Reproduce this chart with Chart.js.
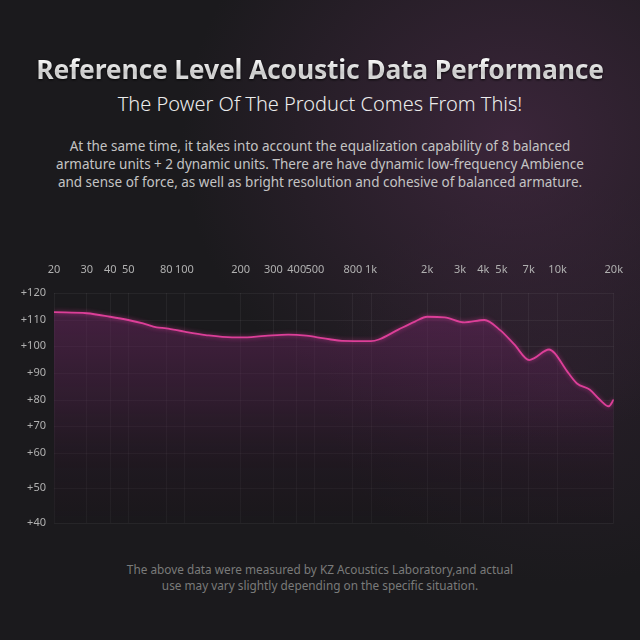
<!DOCTYPE html>
<html>
<head>
<meta charset="utf-8">
<script src="https://cdn.jsdelivr.net/npm/chart.js@4.4.1/dist/chart.umd.min.js"></script>
<style>
  html, body { margin: 0; padding: 0; }
  body {
    width: 640px; height: 640px; overflow: hidden; position: relative;
    font-family: "Noto Sans", "Open Sans", sans-serif;
    background:
      radial-gradient(ellipse 330px 300px at 80% 22%, rgba(72, 42, 70, 0.7), rgba(72, 42, 70, 0) 100%),
      radial-gradient(ellipse 240px 200px at 88% 60%, rgba(55, 35, 55, 0.4), rgba(55, 35, 55, 0) 100%),
      #1b1a1d;
  }
  .txt { position: absolute; left: 0; width: 640px; text-align: center; white-space: nowrap; }
  #title {
    top: 51px; font-size: 26.5px; font-weight: bold; letter-spacing: -0.2px;
    background: linear-gradient(#ffffff 20%, #c9c9c9 60%, #f2f2f2 100%);
    -webkit-background-clip: text; background-clip: text; color: transparent;
    filter: drop-shadow(0 1px 1px rgba(0,0,0,0.8));
  }
  #subtitle { top: 90px; font-size: 20px; color: #ececec; font-weight: 300; }
  #para { top: 137px; font-size: 13.5px; line-height: 18px; color: #c4c4c4; }
  #note { top: 561px; font-size: 11.8px; line-height: 16px; color: #7a7a7a; }
  #wrap { position: absolute; left: 0; top: 250px; width: 640px; height: 290px; }
</style>
</head>
<body>
<div class="txt" id="title">Reference Level Acoustic Data Performance</div>
<div class="txt" id="subtitle">The Power Of The Product Comes From This!</div>
<div class="txt" id="para">At the same time, it takes into account the equalization capability of 8 balanced<br>armature units + 2 dynamic units. There are have dynamic low-frequency Ambience<br>and sense of force, as well as bright resolution and cohesive of balanced armature.</div>
<div class="txt" id="note">The above data were measured by KZ Acoustics Laboratory,and actual<br>use may vary slightly depending on the specific situation.</div>
<div id="wrap"><canvas id="chart"></canvas></div>

<script>
// frequency response
const freqs = [20, 30, 40, 50, 60, 71, 80, 100, 130, 180, 200, 270, 360, 450, 500, 600, 700,
  1000, 1100, 1400, 1720, 2000, 2480, 3170, 4050, 4940, 5860, 7050, 7500, 9000, 9600,
  11200, 12700, 14900, 16800, 18800, 20000]
const levels = [112.9, 112.5, 111.2, 110, 108.7, 107.2, 106.8, 105.5, 104.2, 103.3, 103.3, 103.9,
  104.4, 104.0, 103.5, 102.6, 102.0, 101.9, 102.5, 106.3, 109.4, 111.2, 111.0, 109.1, 110,
  106, 100.6, 94.8, 95.5, 98.7, 97.5, 90.8, 86.1, 83.8, 80.2, 77.6, 80.2]

const freqTicks = [20, 30, 40, 50, 80, 100, 200, 300, 400, 500, 800, 1000, 2000, 3000, 4000, 5000, 7000, 10000, 20000]
const levelTicks = [40, 50, 60, 70, 80, 90, 100, 110, 120]
// the printed scale is not evenly spaced: relative gap between neighbouring ticks
const levelGaps = [35, 35, 27, 26, 27, 27, 26, 27]

class SteppedScale extends Chart.LinearScale {
  static id = 'stepped'
  static defaults = Chart.LinearScale.defaults

  fractionFor(v) {
    const total = levelGaps.reduce((a, b) => a + b, 0)
    let acc = 0
    if (v <= levelTicks[0]) return (v - levelTicks[0]) / 10 * levelGaps[0] / total
    for (let i = 0; i < levelGaps.length; i++) {
      const lo = levelTicks[i], hi = levelTicks[i + 1]
      if (v <= hi || i === levelGaps.length - 1) {
        return (acc + (v - lo) / (hi - lo) * levelGaps[i]) / total
      }
      acc += levelGaps[i]
    }
  }

  getPixelForValue(v) {
    return this.bottom - this.fractionFor(v) * (this.bottom - this.top)
  }

  getValueForPixel(p) {
    const total = levelGaps.reduce((a, b) => a + b, 0)
    const f = (this.bottom - p) / (this.bottom - this.top) * total
    let acc = 0
    for (let i = 0; i < levelGaps.length; i++) {
      if (f <= acc + levelGaps[i] || i === levelGaps.length - 1) {
        return levelTicks[i] + (f - acc) / levelGaps[i] * (levelTicks[i + 1] - levelTicks[i])
      }
      acc += levelGaps[i]
    }
  }
}
Chart.register(SteppedScale)

const glow = {
  id: 'glow',
  beforeDatasetDraw(chart) {
    chart.ctx.save()
    chart.ctx.shadowColor = 'rgba(230, 60, 160, 0.6)'
    chart.ctx.shadowBlur = 4
  },
  afterDatasetDraw(chart) {
    chart.ctx.restore()
  }
}

const gridColor = 'rgba(255, 255, 255, 0.05)'
const tickColor = '#b0b0b0'

new Chart(document.getElementById('chart'), {
  type: 'line',
  data: {
    datasets: [{
      data: freqs.map((f, i) => ({ x: f, y: levels[i] })),
      borderColor: '#dc3f98',
      borderWidth: 1.8,
      pointRadius: 0,
      cubicInterpolationMode: 'monotone',
      fill: 'start',
      backgroundColor: (ctx) => {
        const area = ctx.chart.chartArea
        if (!area) return 'rgba(90, 35, 80, 0.4)'
        const g = ctx.chart.ctx.createLinearGradient(0, area.top, 0, area.bottom)
        g.addColorStop(0, 'rgba(105, 38, 95, 0.6)')
        g.addColorStop(0.45, 'rgba(75, 32, 70, 0.45)')
        g.addColorStop(0.75, 'rgba(40, 22, 38, 0.35)')
        g.addColorStop(1, 'rgba(25, 20, 25, 0.3)')
        return g
      }
    }]
  },
  options: {
    responsive: true,
    maintainAspectRatio: false,
    animation: false,
    layout: { padding: { left: 0, right: 23, top: 0, bottom: 17 } },
    plugins: { legend: { display: false }, tooltip: { enabled: false } },
    scales: {
      x: {
        type: 'logarithmic',
        position: 'top',
        min: 20,
        max: 20000,
        afterBuildTicks: (scale) => { scale.ticks = freqTicks.map(v => ({ value: v })) },
        afterFit: (scale) => { scale.height = 43 },
        border: { display: false },
        grid: { color: gridColor, drawTicks: false },
        ticks: {
          color: tickColor,
          padding: 17,
          maxRotation: 0,
          autoSkip: false,
          font: { family: 'Noto Sans', size: 11 },
          callback: (v) => v >= 1000 ? (v / 1000) + 'k' : String(v)
        }
      },
      y: {
        type: 'stepped',
        min: 40,
        max: 120,
        afterBuildTicks: (scale) => { scale.ticks = levelTicks.map(v => ({ value: v })) },
        afterFit: (scale) => { scale.width = 54 },
        border: { display: false },
        grid: { color: gridColor, drawTicks: false },
        ticks: {
          color: tickColor,
          padding: 8,
          font: { family: 'Noto Sans', size: 11 },
          callback: (v) => '+' + v
        }
      }
    }
  },
  plugins: [glow]
})
</script>
</body>
</html>
